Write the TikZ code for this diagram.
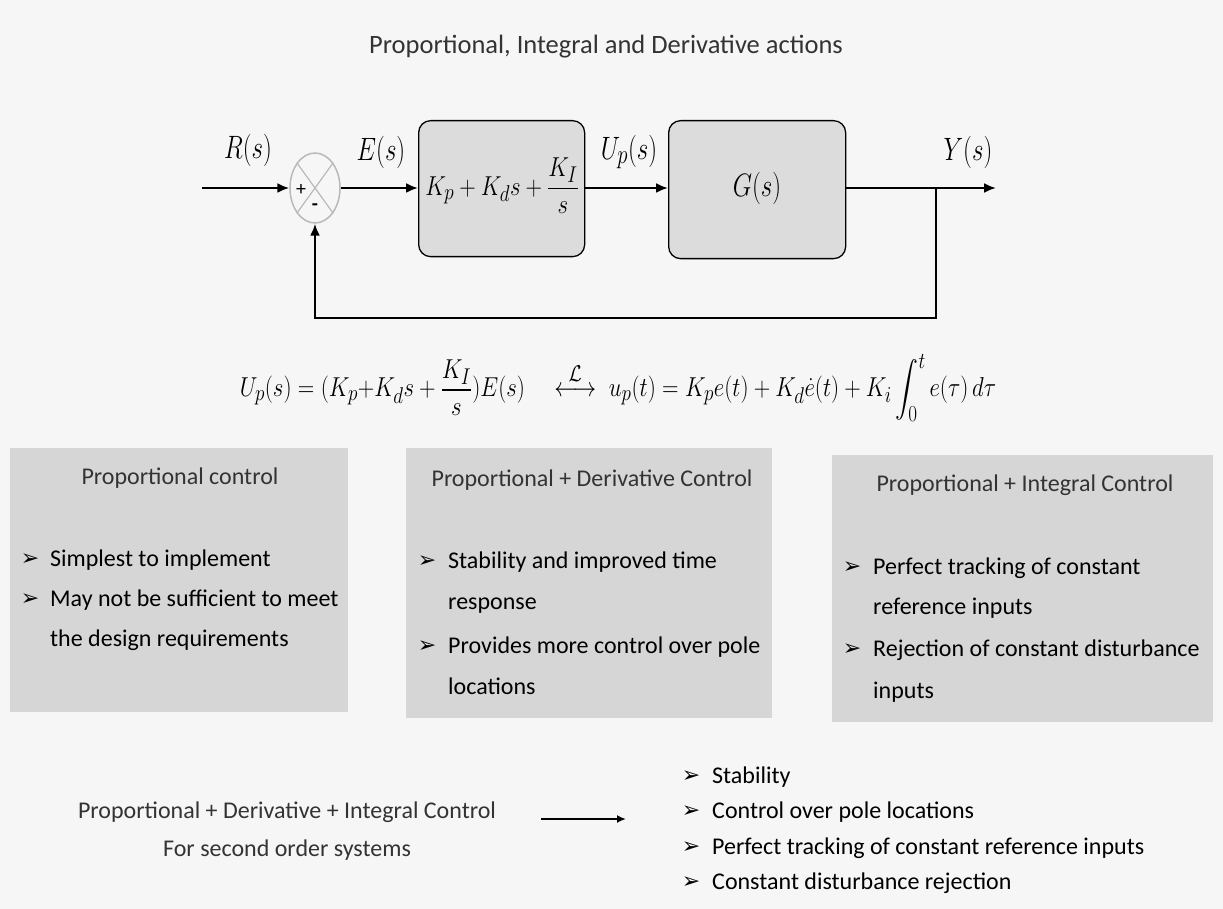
\documentclass[tikz,border=0pt]{standalone}
\usepackage{amsmath}
\usepackage{fontspec}
\setmainfont{Carlito}
\newfontfamily\dejavu{DejaVu Sans}
\usetikzlibrary{arrows.meta,shapes.geometric}
\definecolor{blkgray}{HTML}{DCDCDC}
\definecolor{panelgray}{HTML}{D6D6D6}
\definecolor{bggray}{HTML}{F6F6F6}
\definecolor{darktext}{HTML}{333333}
\begin{document}
\begin{tikzpicture}[x=1pt,y=-1pt,
  lbl/.style={font=\fontsize{24.88}{30}\selectfont, inner sep=0pt, yscale=1.3},
  blk/.style={draw=black, line width=1.3pt, fill=blkgray, rounded corners=12pt, anchor=north west},
  sig/.style={line width=2.2pt, -{Latex[length=12pt,width=10pt]}},
  panel/.style={fill=panelgray, draw=none, anchor=north west, inner sep=0pt},
  head/.style={font=\fontsize{24}{28}\selectfont, text=darktext},
  item/.style={font=\fontsize{24}{28}\selectfont, anchor=west, inner sep=0pt, text height=17pt, text depth=5pt},
  bmark/.style={font=\dejavu\fontsize{22}{26}\selectfont, inner sep=0pt}
]
\useasboundingbox[fill=bggray] (0,0) rectangle (1223,909);

% title
\node[font=\fontsize{26.5}{31}\selectfont, text=darktext] (title) at (606,47) {Proportional, Integral and Derivative actions};

% block diagram
\coordinate (rin) at (202,188);
\node[ellipse, draw=gray!55, line width=1.5pt, minimum width=50, minimum height=70, inner sep=0pt] (sum) at (315,188) {};
\draw[gray!55, line width=1.2pt] (sum.north west) -- (sum.south east);
\draw[gray!55, line width=1.2pt] (sum.north east) -- (sum.south west);
\node[font=\fontsize{20}{22}\selectfont, inner sep=0pt] (plus) at (301,190) {+};
\node[font=\fontsize{20}{22}\selectfont\bfseries, inner sep=0pt] (minus) at (315,207) {-};

\node[blk, minimum width=166, minimum height=136] (pid) at (418,120) {};
\node[font=\fontsize{24.88}{30}\selectfont, inner sep=0pt, xscale=0.92, yscale=1.1] (pidtxt) at (502,186) {$\displaystyle K_p + K_d s + \frac{K_I}{s}$};
\node[blk, minimum width=177, minimum height=138] (g) at (668,120) {};
\node[lbl] (gtxt) at (757,188) {$G(s)$};

\coordinate (yout) at (996,188);
\coordinate (tap) at (936,188);
\coordinate (fb) at (936,318);

\draw[sig] (rin) -- (sum.west);
\draw[sig] (sum.east) -- (sum.east -| pid.west);
\draw[sig] (pid.east |- sum.east) -- (sum.east -| g.west);
\draw[sig] (g.east |- sum.east) -- (yout);
\draw[sig] (tap) -- (fb) -| (sum.south);

\node[lbl] (rl) at (248,150) {$R(s)$};
\node[lbl] (el) at (381,152) {$E(s)$};
\node[lbl] (ul) at (629,152) {$U_p(s)$};
\node[lbl] (yl) at (968,152) {$Y(s)$};

% equation
\node[font=\fontsize{24.88}{30}\selectfont, xscale=0.92, yscale=1.1] (eq) at (618,388)
 {$U_p(s) = (K_p{+}K_d s + \dfrac{K_I}{s})E(s) \quad \overset{\mathcal{L}}{\longleftrightarrow}\; u_p(t) = K_p e(t) + K_d \dot{e}(t) + K_i \displaystyle\int_0^t e(\tau)\, d\tau$};

% panels
\node[panel, minimum width=338, minimum height=264] (p1) at (10,448) {};
\node[panel, minimum width=366, minimum height=270] (p2) at (406,448) {};
\node[panel, minimum width=381, minimum height=267] (p3) at (832,455) {};

\node[head] (h1) at (180,478) {Proportional control};
\node[head] (h2) at (592,480) {Proportional + Derivative Control};
\node[head] (h3) at (1025,485) {Proportional + Integral Control};

% panel 1 items
\node[bmark] (m11) at (30,560) {➢};
\node[item] (t11) at (50,560) {Simplest to implement};
\node[bmark] (m12) at (30,600) {➢};
\node[item] (t12) at (50,600) {May not be sufficient to meet};
\node[item] (t13) at (50,640) {the design requirements};

% panel 2 items
\node[bmark] (m21) at (427,562) {➢};
\node[item] (t21) at (448,562) {Stability and improved time};
\node[item] (t22) at (448,603) {response};
\node[bmark] (m23) at (427,647) {➢};
\node[item] (t23) at (448,647) {Provides more control over pole};
\node[item] (t24) at (448,688) {locations};

% panel 3 items
\node[bmark] (m31) at (852,568) {➢};
\node[item] (t31) at (873,568) {Perfect tracking of constant};
\node[item] (t32) at (873,608) {reference inputs};
\node[bmark] (m33) at (852,650) {➢};
\node[item] (t33) at (873,650) {Rejection of constant disturbance};
\node[item] (t34) at (873,692) {inputs};

% bottom
\node[font=\fontsize{24}{28}\selectfont, text=darktext] (pid2) at (287,812) {Proportional + Derivative + Integral Control};
\node[font=\fontsize{24}{28}\selectfont, text=darktext] (sec) at (287,850) {For second order systems};
\coordinate (a1) at (541,819);
\coordinate (a2) at (626,819);
\draw[line width=2pt, -{Latex[length=9pt,width=8pt]}] (a1) -- (a2);

\node[bmark] (m41) at (691,777) {➢};
\node[item] (t41) at (712,777) {Stability};
\node[bmark] (m42) at (691,812) {➢};
\node[item] (t42) at (712,812) {Control over pole locations};
\node[bmark] (m43) at (691,848) {➢};
\node[item] (t43) at (712,848) {Perfect tracking of constant reference inputs};
\node[bmark] (m44) at (691,883) {➢};
\node[item] (t44) at (712,883) {Constant disturbance rejection};
\end{tikzpicture}
\end{document}
